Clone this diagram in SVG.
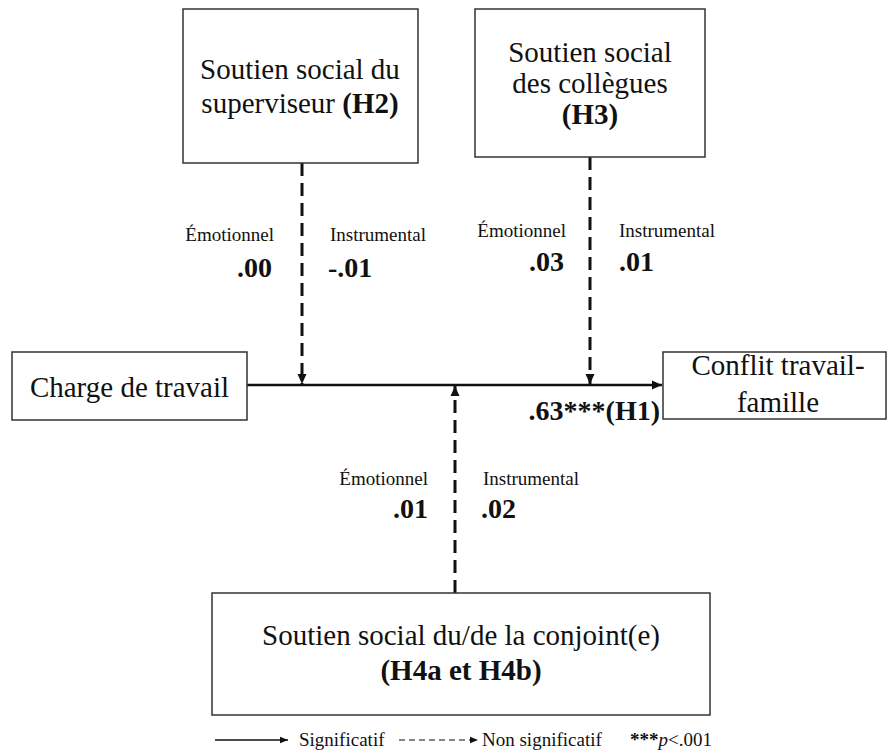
<svg xmlns="http://www.w3.org/2000/svg" width="888" height="754" viewBox="0 0 888 754">
<style>
.box{fill:#fff;stroke:#333;stroke-width:1.5}
.t{font-family:"Liberation Serif","Times New Roman",serif;font-size:29px;fill:#111;text-anchor:middle}
.b{font-weight:bold}
.lab{font-family:"Liberation Serif","Times New Roman",serif;font-size:19px;fill:#111}
.num{font-family:"Liberation Serif","Times New Roman",serif;font-size:28px;font-weight:bold;fill:#111}
.sol{stroke:#111;stroke-width:2.5;fill:none}
.dash{stroke:#111;stroke-width:3;fill:none;stroke-dasharray:13 7}
.leg{font-family:"Liberation Serif","Times New Roman",serif;font-size:19px;fill:#111}
</style>
<defs>
<marker id="ah" viewBox="0 0 10 10" refX="10" refY="5" markerWidth="10" markerHeight="10" markerUnits="userSpaceOnUse" orient="auto">
<path d="M0,0.5 L10,5 L0,9.5 z" fill="#111"/>
</marker>
<marker id="ahs" viewBox="0 0 10 10" refX="10" refY="5" markerWidth="8" markerHeight="8" markerUnits="userSpaceOnUse" orient="auto">
<path d="M0,1 L10,5 L0,9 z" fill="#111"/>
</marker>
</defs>
<rect width="888" height="754" fill="#fff"/>

<g id="connectors">
<line class="sol" x1="247" y1="385" x2="662" y2="385" marker-end="url(#ah)"/>
<line class="dash" x1="302" y1="163" x2="302" y2="384" marker-end="url(#ah)"/>
<line class="dash" x1="590" y1="157" x2="590" y2="384" marker-end="url(#ah)"/>
<line class="dash" x1="455" y1="593" x2="455" y2="386" marker-end="url(#ah)"/>
</g>

<g id="h2">
<rect class="box" x="183" y="9" width="235" height="154"/>
<text class="t" x="300" y="79">Soutien social du</text>
<text class="t" x="300" y="113">superviseur <tspan class="b">(H2)</tspan></text>
</g>

<g id="h3">
<rect class="box" x="475" y="9" width="230" height="148"/>
<text class="t" x="590" y="62">Soutien social</text>
<text class="t" x="590" y="93">des collègues</text>
<text class="t b" x="590" y="124">(H3)</text>
</g>

<g id="charge">
<rect class="box" x="12" y="352" width="235" height="68"/>
<text class="t" x="129.5" y="397">Charge de travail</text>
</g>

<g id="conflit">
<rect class="box" x="663" y="352" width="223" height="67"/>
<text class="t" x="778" y="375">Conflit travail-</text>
<text class="t" x="778" y="412">famille</text>
</g>

<g id="h4">
<rect class="box" x="212" y="593" width="498" height="122"/>
<text class="t" x="461" y="645">Soutien social du/de la conjoint(e)</text>
<text class="t b" x="461" y="680">(H4a et H4b)</text>
</g>

<g id="labels">
<text class="lab" x="274" y="241" text-anchor="end">Émotionnel</text>
<text class="lab" x="330" y="241">Instrumental</text>
<text class="num" x="272" y="277" text-anchor="end">.00</text>
<text class="num" x="328" y="277">-.01</text>
<text class="lab" x="566" y="237" text-anchor="end">Émotionnel</text>
<text class="lab" x="619" y="237">Instrumental</text>
<text class="num" x="564" y="271" text-anchor="end">.03</text>
<text class="num" x="619" y="271">.01</text>
<text class="lab" x="428" y="485" text-anchor="end">Émotionnel</text>
<text class="lab" x="483" y="485">Instrumental</text>
<text class="num" x="428" y="518" text-anchor="end">.01</text>
<text class="num" x="481" y="518">.02</text>
<text class="num" x="660" y="420" text-anchor="end">.63***(H1)</text>
</g>

<g id="legend">
<line x1="215" y1="740" x2="288" y2="740" stroke="#111" stroke-width="1.5" marker-end="url(#ahs)"/>
<text class="leg" x="299" y="746">Significatif</text>
<line x1="399" y1="740" x2="478" y2="740" stroke="#111" stroke-width="1.2" stroke-dasharray="6 4" marker-end="url(#ahs)"/>
<text class="leg" x="482" y="746">Non significatif</text>
<text class="leg" x="630" y="746"><tspan font-weight="bold">***</tspan><tspan font-style="italic">p</tspan>&lt;.001</text>
</g>
</svg>
